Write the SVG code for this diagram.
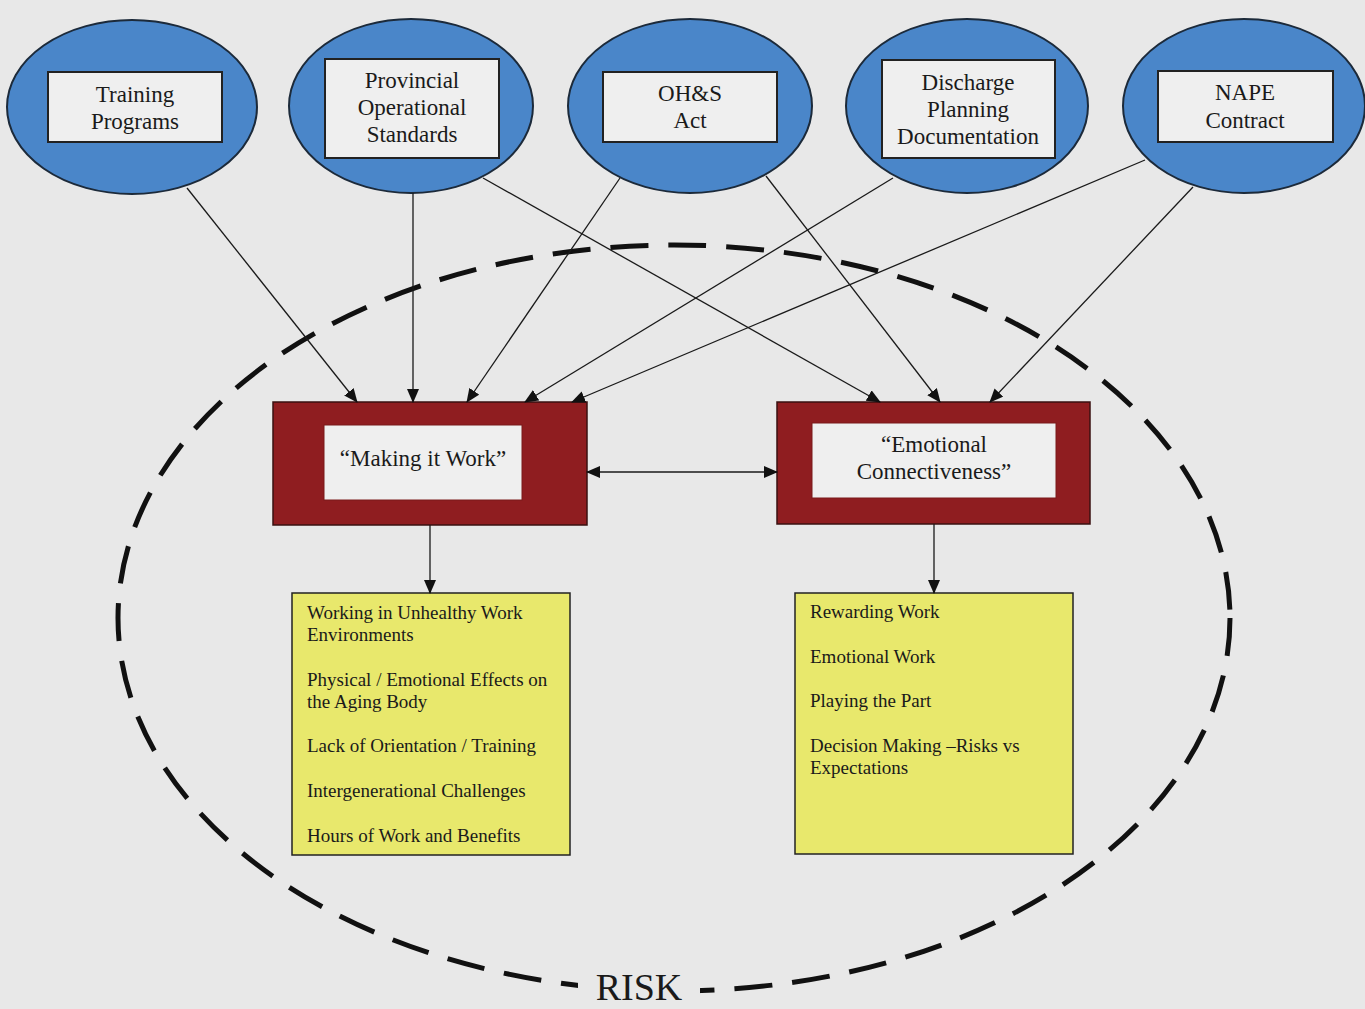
<svg xmlns="http://www.w3.org/2000/svg" width="1365" height="1009" viewBox="0 0 1365 1009">
<style>
text{font-family:"Liberation Serif","Times New Roman",serif;fill:#1a1a1a}
.ell{fill:#4a86c9;stroke:#1c2a3a;stroke-width:2}
.lbl{fill:#efefef;stroke:#222;stroke-width:2}
.red{fill:#8f1d20;stroke:#3a1010;stroke-width:1.5}
.inner{fill:#efefef;stroke:#7a1a1a;stroke-width:1}
.yel{fill:#e8e86c;stroke:#222;stroke-width:1.5}
.t23{font-size:23px;text-anchor:middle}
.t19{font-size:19px}
.conn line{stroke:#1a1a1a;stroke-width:1.3}
</style>
<defs>
<marker id="ah" markerUnits="userSpaceOnUse" markerWidth="14" markerHeight="12" refX="13" refY="6" orient="auto-start-reverse">
<path d="M0,0 L14,6 L0,12 z" fill="#111"/>
</marker>
</defs>
<rect width="1365" height="1009" fill="#e8e8e8"/>
<g id="risk">
<ellipse cx="674" cy="618" rx="556" ry="373" fill="none" stroke="#111" stroke-width="5" stroke-dasharray="38,20"/>
<rect x="578" y="965" width="122" height="44" fill="#e8e8e8"/>
<text x="639" y="1000" font-size="38" text-anchor="middle">RISK</text>
</g>
<g id="training">
<ellipse class="ell" cx="132" cy="107" rx="125" ry="87"/>
<rect class="lbl" x="48" y="72" width="174" height="70"/>
<text class="t23" x="135" y="102">Training</text>
<text class="t23" x="135" y="129">Programs</text>
</g>
<g id="provincial">
<ellipse class="ell" cx="411" cy="106" rx="122" ry="87"/>
<rect class="lbl" x="325" y="59" width="174" height="99"/>
<text class="t23" x="412" y="88">Provincial</text>
<text class="t23" x="412" y="115">Operational</text>
<text class="t23" x="412" y="142">Standards</text>
</g>
<g id="ohs">
<ellipse class="ell" cx="690" cy="106" rx="122" ry="87"/>
<rect class="lbl" x="603" y="72" width="174" height="70"/>
<text class="t23" x="690" y="101">OH&amp;S</text>
<text class="t23" x="690" y="128">Act</text>
</g>
<g id="discharge">
<ellipse class="ell" cx="967" cy="106" rx="121" ry="87"/>
<rect class="lbl" x="882" y="60" width="173" height="98"/>
<text class="t23" x="968" y="90">Discharge</text>
<text class="t23" x="968" y="117">Planning</text>
<text class="t23" x="968" y="144">Documentation</text>
</g>
<g id="nape">
<ellipse class="ell" cx="1244" cy="106" rx="121" ry="87"/>
<rect class="lbl" x="1158" y="71" width="175" height="71"/>
<text class="t23" x="1245" y="100">NAPE</text>
<text class="t23" x="1245" y="128">Contract</text>
</g>
<g id="making">
<rect class="red" x="273" y="402" width="314" height="123"/>
<rect class="inner" x="324" y="425" width="198" height="75"/>
<text class="t23" x="423" y="466">“Making it Work”</text>
</g>
<g id="emotional">
<rect class="red" x="777" y="402" width="313" height="122"/>
<rect class="inner" x="812" y="423" width="244" height="75"/>
<text class="t23" x="934" y="452">“Emotional</text>
<text class="t23" x="934" y="479">Connectiveness”</text>
</g>
<g id="leftlist">
<rect class="yel" x="292" y="593" width="278" height="262"/>
<text class="t19" x="307" y="619">Working in Unhealthy Work</text>
<text class="t19" x="307" y="641">Environments</text>
<text class="t19" x="307" y="686">Physical / Emotional Effects on</text>
<text class="t19" x="307" y="708">the Aging Body</text>
<text class="t19" x="307" y="752">Lack of Orientation / Training</text>
<text class="t19" x="307" y="797">Intergenerational Challenges</text>
<text class="t19" x="307" y="842">Hours of Work and Benefits</text>
</g>
<g id="rightlist">
<rect class="yel" x="795" y="593" width="278" height="261"/>
<text class="t19" x="810" y="618">Rewarding Work</text>
<text class="t19" x="810" y="663">Emotional Work</text>
<text class="t19" x="810" y="707">Playing the Part</text>
<text class="t19" x="810" y="752">Decision Making –Risks vs</text>
<text class="t19" x="810" y="774">Expectations</text>
</g>
<g id="connectors" class="conn">
<line x1="187" y1="188" x2="357" y2="402" marker-end="url(#ah)"/>
<line x1="413" y1="193" x2="413" y2="402" marker-end="url(#ah)"/>
<line x1="620" y1="178" x2="467" y2="402" marker-end="url(#ah)"/>
<line x1="893" y1="178" x2="525" y2="402" marker-end="url(#ah)"/>
<line x1="1145" y1="160" x2="572" y2="402" marker-end="url(#ah)"/>
<line x1="483" y1="178" x2="880" y2="402" marker-end="url(#ah)"/>
<line x1="766" y1="176" x2="940" y2="402" marker-end="url(#ah)"/>
<line x1="1193" y1="187" x2="990" y2="402" marker-end="url(#ah)"/>
<line x1="587" y1="472" x2="777" y2="472" marker-start="url(#ah)" marker-end="url(#ah)"/>
<line x1="430" y1="525" x2="430" y2="593" marker-end="url(#ah)"/>
<line x1="934" y1="524" x2="934" y2="593" marker-end="url(#ah)"/>
</g>
</svg>
